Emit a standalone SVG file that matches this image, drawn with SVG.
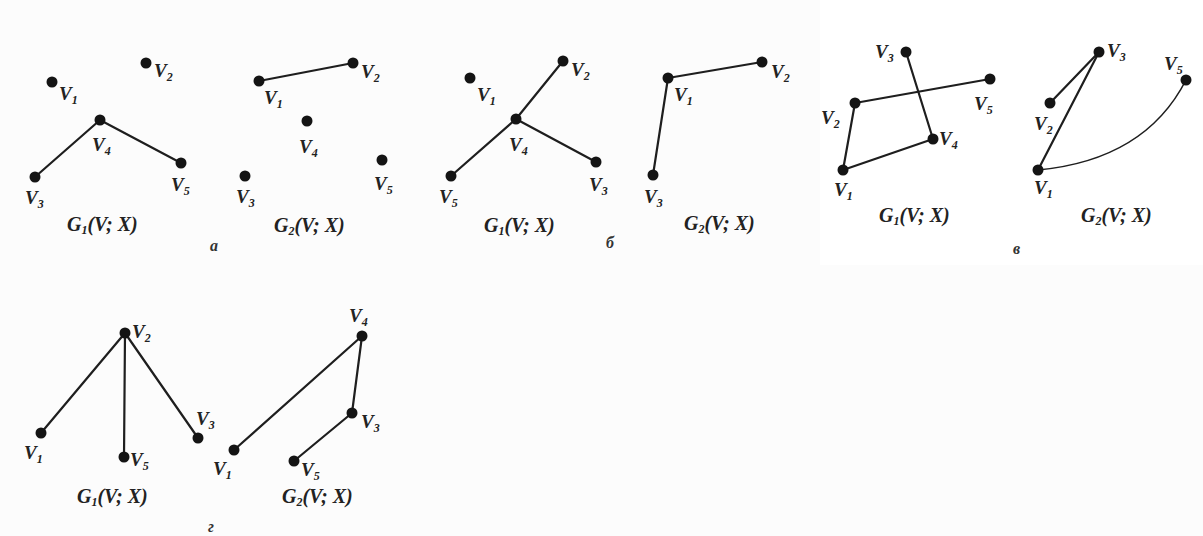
<svg xmlns="http://www.w3.org/2000/svg" width="1203" height="536" viewBox="0 0 1203 536">
<style>
.bg{fill:#fcfcfc}
.e{stroke:#1e1e1e;stroke-width:2.2;fill:none;stroke-linecap:round}
.d{fill:#141414}
.t{font-family:"Liberation Serif","DejaVu Serif",serif;font-style:italic;font-weight:bold;font-size:19px;fill:#222}
.s{font-size:12px}
.g{font-family:"Liberation Serif","DejaVu Serif",serif;font-style:italic;font-weight:bold;font-size:20px;fill:#222}
.p{font-family:"Liberation Serif","DejaVu Serif",serif;font-style:italic;font-weight:bold;font-size:16px;fill:#333}
</style>
<rect class="bg" x="0" y="0" width="1203" height="536"/>
<rect x="820" y="0" width="383" height="265" fill="#ffffff"/>
<g id="connectors">
  <line class="e" x1="35" y1="177" x2="100" y2="120"/>
  <line class="e" x1="100" y1="120" x2="181" y2="163"/>
  <line class="e" x1="259" y1="81" x2="353" y2="63"/>
  <line class="e" x1="451" y1="176" x2="516" y2="119"/>
  <line class="e" x1="516" y1="119" x2="563" y2="61"/>
  <line class="e" x1="516" y1="119" x2="596" y2="162"/>
  <line class="e" x1="653" y1="175" x2="668" y2="78"/>
  <line class="e" x1="668" y1="78" x2="762" y2="62"/>
  <line class="e" x1="906" y1="52" x2="933" y2="139"/>
  <line class="e" x1="855" y1="103" x2="990" y2="79"/>
  <line class="e" x1="855" y1="103" x2="843" y2="170"/>
  <line class="e" x1="843" y1="170" x2="933" y2="139"/>
  <line class="e" x1="1099" y1="52" x2="1050" y2="103"/>
  <line class="e" x1="1099" y1="52" x2="1038" y2="170"/>
  <path class="e" d="M1038,170 Q1145,160 1186,80" style="stroke-width:1.6"/>
  <line class="e" x1="125" y1="333" x2="41" y2="433"/>
  <line class="e" x1="125" y1="333" x2="124" y2="457"/>
  <line class="e" x1="125" y1="333" x2="198" y2="438"/>
  <line class="e" x1="234" y1="450" x2="362" y2="336"/>
  <line class="e" x1="362" y1="336" x2="352" y2="413"/>
  <line class="e" x1="352" y1="413" x2="294" y2="461"/>
</g>
<!-- Panel a, G1 -->
<g id="a-G1-V1"><circle class="d" cx="52" cy="82" r="5.5"/><text class="t" x="59" y="100">V<tspan class="s" dy="4">1</tspan></text></g>
<g id="a-G1-V2"><circle class="d" cx="146" cy="63" r="5.5"/><text class="t" x="154" y="77">V<tspan class="s" dy="4">2</tspan></text></g>
<g id="a-G1-V4"><circle class="d" cx="100" cy="120" r="5.5"/><text class="t" x="92" y="151">V<tspan class="s" dy="4">4</tspan></text></g>
<g id="a-G1-V3"><circle class="d" cx="35" cy="177" r="5.5"/><text class="t" x="25" y="204">V<tspan class="s" dy="4">3</tspan></text></g>
<g id="a-G1-V5"><circle class="d" cx="181" cy="163" r="5.5"/><text class="t" x="171" y="191">V<tspan class="s" dy="4">5</tspan></text></g>
<g id="a-G1-title"><text class="g" x="67" y="231">G<tspan class="s" dy="3">1</tspan><tspan dy="-3">(V; X)</tspan></text></g>
<!-- Panel a, G2 -->
<g id="a-G2-V1"><circle class="d" cx="259" cy="81" r="5.5"/><text class="t" x="264" y="104">V<tspan class="s" dy="4">1</tspan></text></g>
<g id="a-G2-V2"><circle class="d" cx="353" cy="63" r="5.5"/><text class="t" x="361" y="78">V<tspan class="s" dy="4">2</tspan></text></g>
<g id="a-G2-V4"><circle class="d" cx="307" cy="121" r="5.5"/><text class="t" x="299" y="153">V<tspan class="s" dy="4">4</tspan></text></g>
<g id="a-G2-V3"><circle class="d" cx="245" cy="176" r="5.5"/><text class="t" x="236" y="203">V<tspan class="s" dy="4">3</tspan></text></g>
<g id="a-G2-V5"><circle class="d" cx="382" cy="160" r="5.5"/><text class="t" x="374" y="190">V<tspan class="s" dy="4">5</tspan></text></g>
<g id="a-G2-title"><text class="g" x="274" y="232">G<tspan class="s" dy="3">2</tspan><tspan dy="-3">(V; X)</tspan></text></g>
<g id="label-a"><text class="p" x="210" y="251">а</text></g>
<!-- Panel b, G1 -->
<g id="b-G1-V1"><circle class="d" cx="470" cy="78" r="5.5"/><text class="t" x="477" y="101">V<tspan class="s" dy="4">1</tspan></text></g>
<g id="b-G1-V2"><circle class="d" cx="563" cy="61" r="5.5"/><text class="t" x="571" y="76">V<tspan class="s" dy="4">2</tspan></text></g>
<g id="b-G1-V4"><circle class="d" cx="516" cy="119" r="5.5"/><text class="t" x="509" y="151">V<tspan class="s" dy="4">4</tspan></text></g>
<g id="b-G1-V3"><circle class="d" cx="596" cy="162" r="5.5"/><text class="t" x="589" y="191">V<tspan class="s" dy="4">3</tspan></text></g>
<g id="b-G1-V5"><circle class="d" cx="451" cy="176" r="5.5"/><text class="t" x="439" y="203">V<tspan class="s" dy="4">5</tspan></text></g>
<g id="b-G1-title"><text class="g" x="484" y="232">G<tspan class="s" dy="3">1</tspan><tspan dy="-3">(V; X)</tspan></text></g>
<!-- Panel b, G2 -->
<g id="b-G2-V1"><circle class="d" cx="668" cy="78" r="5.5"/><text class="t" x="674" y="101">V<tspan class="s" dy="4">1</tspan></text></g>
<g id="b-G2-V2"><circle class="d" cx="762" cy="62" r="5.5"/><text class="t" x="771" y="78">V<tspan class="s" dy="4">2</tspan></text></g>
<g id="b-G2-V3"><circle class="d" cx="653" cy="175" r="5.5"/><text class="t" x="644" y="203">V<tspan class="s" dy="4">3</tspan></text></g>
<g id="b-G2-title"><text class="g" x="684" y="230">G<tspan class="s" dy="3">2</tspan><tspan dy="-3">(V; X)</tspan></text></g>
<g id="label-b"><text class="p" x="606" y="248">б</text></g>
<!-- Panel v, G1 -->
<g id="v-G1-V3"><circle class="d" cx="906" cy="52" r="5.5"/><text class="t" x="875" y="58">V<tspan class="s" dy="4">3</tspan></text></g>
<g id="v-G1-V5"><circle class="d" cx="990" cy="79" r="5.5"/><text class="t" x="974" y="110">V<tspan class="s" dy="4">5</tspan></text></g>
<g id="v-G1-V2"><circle class="d" cx="855" cy="103" r="5.5"/><text class="t" x="821" y="124">V<tspan class="s" dy="4">2</tspan></text></g>
<g id="v-G1-V4"><circle class="d" cx="933" cy="139" r="5.5"/><text class="t" x="939" y="145">V<tspan class="s" dy="4">4</tspan></text></g>
<g id="v-G1-V1"><circle class="d" cx="843" cy="170" r="5.5"/><text class="t" x="834" y="196">V<tspan class="s" dy="4">1</tspan></text></g>
<g id="v-G1-title"><text class="g" x="879" y="222">G<tspan class="s" dy="3">1</tspan><tspan dy="-3">(V; X)</tspan></text></g>
<!-- Panel v, G2 -->
<g id="v-G2-V3"><circle class="d" cx="1099" cy="52" r="5.5"/><text class="t" x="1107" y="57">V<tspan class="s" dy="4">3</tspan></text></g>
<g id="v-G2-V5"><circle class="d" cx="1186" cy="80" r="5.5"/><text class="t" x="1164" y="70">V<tspan class="s" dy="4">5</tspan></text></g>
<g id="v-G2-V2"><circle class="d" cx="1050" cy="103" r="5.5"/><text class="t" x="1034" y="130">V<tspan class="s" dy="4">2</tspan></text></g>
<g id="v-G2-V1"><circle class="d" cx="1038" cy="170" r="5.5"/><text class="t" x="1034" y="194">V<tspan class="s" dy="4">1</tspan></text></g>
<g id="v-G2-title"><text class="g" x="1081" y="222">G<tspan class="s" dy="3">2</tspan><tspan dy="-3">(V; X)</tspan></text></g>
<g id="label-v"><text class="p" x="1013" y="254">в</text></g>
<!-- Panel g, G1 -->
<g id="g-G1-V2"><circle class="d" cx="125" cy="333" r="5.5"/><text class="t" x="132" y="338">V<tspan class="s" dy="4">2</tspan></text></g>
<g id="g-G1-V1"><circle class="d" cx="41" cy="433" r="5.5"/><text class="t" x="24" y="459">V<tspan class="s" dy="4">1</tspan></text></g>
<g id="g-G1-V5"><circle class="d" cx="124" cy="457" r="5.5"/><text class="t" x="130" y="466">V<tspan class="s" dy="4">5</tspan></text></g>
<g id="g-G1-V3"><circle class="d" cx="198" cy="438" r="5.5"/><text class="t" x="196" y="425">V<tspan class="s" dy="4">3</tspan></text></g>
<g id="g-G1-title"><text class="g" x="77" y="503">G<tspan class="s" dy="3">1</tspan><tspan dy="-3">(V; X)</tspan></text></g>
<!-- Panel g, G2 -->
<g id="g-G2-V4"><circle class="d" cx="362" cy="336" r="5.5"/><text class="t" x="349" y="322">V<tspan class="s" dy="4">4</tspan></text></g>
<g id="g-G2-V3"><circle class="d" cx="352" cy="413" r="5.5"/><text class="t" x="361" y="428">V<tspan class="s" dy="4">3</tspan></text></g>
<g id="g-G2-V1"><circle class="d" cx="234" cy="450" r="5.5"/><text class="t" x="213" y="475">V<tspan class="s" dy="4">1</tspan></text></g>
<g id="g-G2-V5"><circle class="d" cx="294" cy="461" r="5.5"/><text class="t" x="301" y="476">V<tspan class="s" dy="4">5</tspan></text></g>
<g id="g-G2-title"><text class="g" x="282" y="503">G<tspan class="s" dy="3">2</tspan><tspan dy="-3">(V; X)</tspan></text></g>
<g id="label-g"><text class="p" x="208" y="532">г</text></g>
</svg>
